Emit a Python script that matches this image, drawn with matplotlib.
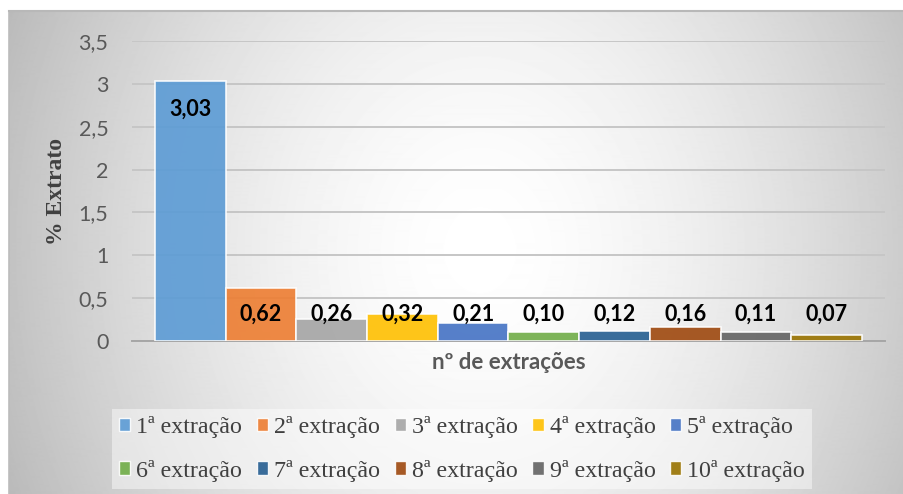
import numpy as np
import matplotlib
matplotlib.use('Agg')
import matplotlib.pyplot as plt
from matplotlib.patches import Patch
from matplotlib.font_manager import FontProperties

# ---------------- data ----------------
series = ['1ª extração', '2ª extração', '3ª extração', '4ª extração', '5ª extração',
          '6ª extração', '7ª extração', '8ª extração', '9ª extração', '10ª extração']
values = [3.03, 0.62, 0.26, 0.32, 0.21, 0.10, 0.12, 0.16, 0.11, 0.07]
value_labels = ['3,03', '0,62', '0,26', '0,32', '0,21', '0,10', '0,12', '0,16', '0,11', '0,07']
yticks = [0, 0.5, 1, 1.5, 2, 2.5, 3, 3.5]
ytick_labels = ['0', '0,5', '1', '1,5', '2', '2,5', '3', '3,5']
colors = ['#5B9BD5', '#ED7D31', '#A5A5A5', '#FFC000', '#4472C4',
          '#70AD47', '#255E91', '#9E480E', '#636363', '#997300']
y_label = '% Extrato'
x_label = 'nº de extrações'

W, H = 904, 494
fig = plt.figure(figsize=(W / 100, H / 100), dpi=100)
fig.patch.set_facecolor('white')

# ---------------- background (radial gradient) ----------------
bx0, by0 = 9, 11
bg = fig.add_axes([bx0 / W, 0, (W - bx0) / W, (H - by0) / H])
yy, xx = np.mgrid[0:H - by0, 0:W - bx0].astype(float)
px = xx + bx0
py = yy + by0
cx, cy = 480.0, 250.0
d = np.sqrt(((px - cx) / 470.0) ** 2 + ((py - cy) / 560.0) ** 2)
img = 255 - 60 * np.clip(d, 0, 1.12) ** 1.6
bg.imshow(img, cmap='gray', vmin=0, vmax=255, aspect='auto', interpolation='bilinear')
bg.set_xticks([]); bg.set_yticks([])
for s in bg.spines.values():
    s.set_visible(False)
bg.spines['top'].set_visible(True)
bg.spines['left'].set_visible(True)
bg.spines['top'].set_color('#b8b8b8')
bg.spines['left'].set_color('#bcbcbc')
bg.spines['top'].set_linewidth(1.5)
bg.spines['left'].set_linewidth(1.2)
bg.set_zorder(0)

# ---------------- main axes ----------------
ax = fig.add_axes([132 / W, (H - 341) / H, 753 / W, 300 / H])
ax.set_zorder(1)
ax.patch.set_alpha(0)

n = len(values)
width = 0.0939
xpos = (np.arange(n) - (n - 1) / 2) * width
ax.bar(xpos, values, width=width, color=colors, alpha=0.9,
       edgecolor=(1, 1, 1, 0.45), linewidth=1.2, zorder=3)

ax.set_xlim(-0.5, 0.5)
ax.set_ylim(0, 3.5)
ax.set_yticks(yticks)
ax.set_yticklabels(ytick_labels, fontfamily='Lato', fontsize=15.5, color='#595959')
ax.tick_params(axis='y', length=0, pad=17)
ax.set_xticks([])
ax.yaxis.grid(True, color='#c6c6c6', linewidth=1.4, zorder=0)
ax.set_axisbelow(True)
for s in ['top', 'right', 'left']:
    ax.spines[s].set_visible(False)
ax.spines['bottom'].set_color('#a6a6a6')
ax.spines['bottom'].set_linewidth(1.4)

# data labels
label_y = np.maximum(np.array(values) - 0.33, 0.31)
for x, ly, txt in zip(xpos, label_y, value_labels):
    ax.text(x, ly, txt, ha='center', va='center', fontfamily='Lato',
            fontweight='bold', fontsize=15.5, color='black', zorder=5)

ax.set_ylabel(y_label, fontfamily='Liberation Serif', fontweight='bold',
              fontsize=17, color='#404040')
ax.yaxis.set_label_coords(-0.086, 0.5)
ax.set_xlabel(x_label, fontfamily='Lato', fontweight='bold', fontsize=16,
              color='#595959')
ax.xaxis.set_label_coords(0.5, -0.07)
ax.xaxis.label.set_va('center')

# ---------------- legend ----------------
handles = [Patch(facecolor=c, edgecolor=(1, 1, 1, 0.6), linewidth=1.0, alpha=0.9) for c in colors]
order = [0, 5, 1, 6, 2, 7, 3, 8, 4, 9]
leg = fig.legend([handles[i] for i in order], [series[i] for i in order],
                 ncol=5, loc='center', bbox_to_anchor=(462 / W, 1 - 449 / H),
                 prop=FontProperties(family='Liberation Serif', size=17.3),
                 frameon=True, fancybox=False, facecolor='white', edgecolor='none',
                 framealpha=0.45, handlelength=0.46, handleheight=0.46,
                 handletextpad=0.25, columnspacing=0.62, labelspacing=0.88,
                 borderpad=0.3, borderaxespad=0)
for t in leg.get_texts():
    t.set_color('#404040')
leg.set_zorder(2)

fig.savefig('out.png', dpi=100)
